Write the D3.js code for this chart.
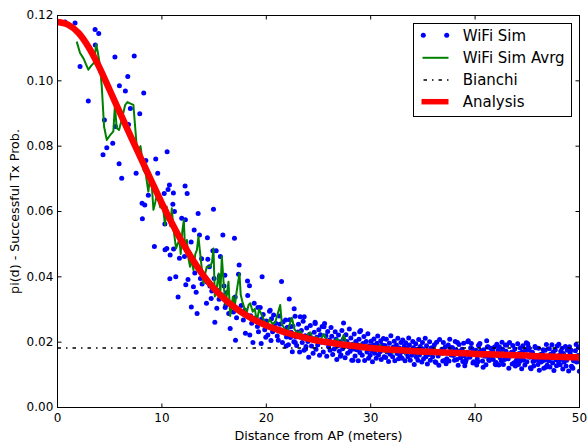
<!DOCTYPE html>
<html><head><meta charset="utf-8">
<script src="https://cdn.jsdelivr.net/npm/d3@7"></script>
<style>body{margin:0;background:#fff}svg{display:block}text{font-family:"DejaVu Sans",sans-serif}</style>
</head><body><svg id="c" width="587" height="443"></svg>
<script>
// ---- axis ticks ----
const xTicks = [0, 10, 20, 30, 40, 50];
const yTicks = [0, 0.02, 0.04, 0.06, 0.08, 0.10, 0.12];
const seriesNames = ["WiFi Sim", "WiFi Sim Avrg", "Bianchi", "Analysis"];

// ---- WiFi Sim scatter (distance m, pi(d)) ----
const simDistNear = [0.72,1.68,2.16,2.95,3.6,3.95,3.62,4.14,4.36,4.49,4.72,5.29,5.5,5.54,5.9,5.93,6.15,6.5,6.73,6.8,6.98,7.35,7.53,7.69,7.88,8.1,8.13,8.26,8.36,8.46,8.7,9.28,9.41,9.6,10.28,10.22,10.3,10.47,10.5,10.59,10.72,10.76,10.79,11.05,11.1,11.12,11.2,11.33,11.55,11.68,11.74,11.9,12.16,12.22,12.25,12.29,12.42,12.5,12.8,12.82,13.02,13.09,13.28,13.37,13.47,13.6,13.69,13.85,14.27,14.33,14.36,14.4,14.55,14.72,14.78,14.88,14.94,15.07,15.2,15.26,15.48,15.51,15.6,15.84,16.03,16.06,16.13,16.54,16.66,16.95,17.02,17.05,17.34,17.4,18.0,18.2,18.22,18.39,18.42,18.72,18.84,19.2,19.42,19.45,19.51,19.6,20.31,20.37,20.76,21.24,21.4,21.46,21.94,22.2,22.29,22.67,22.77,23.25,23.63,23.76,24.69,25.58,27.1,27.4,28.3,28.94];
const simPiNear = [.1180,.1177,.1044,.0938,.1157,.1145,.1110,.1029,.0774,.0880,.0795,.0809,.1073,.0860,.0746,.0985,.0702,.0969,.1013,.0866,.0915,.1076,.0717,.0785,.0899,.0625,.0578,.0963,.0620,.0756,.0650,.0493,.0761,.0717,.0562,.0655,.0483,.0487,.0783,.0667,.0681,.0394,.0467,.0622,.0657,.0485,.0600,.0400,.0338,.0457,.0518,.0579,.0462,.0678,.0575,.0376,.0655,.0392,.0507,.0308,.0370,.0543,.0353,.0288,.0594,.0528,.0395,.0378,.0319,.0384,.0520,.0454,.0431,.0334,.0357,.0480,.0607,.0261,.0480,.0304,.0331,.0402,.0462,.0528,.0405,.0306,.0314,.0242,.0319,.0518,.0338,.0206,.0408,.0436,.0227,.0387,.0343,.0373,.0222,.0199,.0319,.0306,.0306,.0262,.0196,.0400,.0295,.0298,.0247,.0280,.0237,.0386,.0216,.0332,.0247,.0302,.0199,.0278,.0278,.0179,.0257,.0257,.0157,.0259,.0145,.0232];

const simDistMid = [13.15,13.8,14.05,14.6,15.0,15.35,15.7,15.95,16.25,16.4,16.85,17.15,17.6,17.8,17.95,18.5,18.6,19.0,19.15,19.7,19.85,20.0,20.15,20.5,20.6,20.9,21.05,21.6,21.75,22.0,19.25,19.55,19.95,20.2,20.45,20.7,21.15,21.3,21.55,21.85,21.9];
const simPiMid = [.0412,.0455,.0402,.0372,.0395,.0358,.0345,.0372,.0352,.0288,.0292,.0275,.0312,.0268,.0298,.0281,.0258,.0275,.0248,.0285,.0238,.0265,.0222,.0272,.0232,.0258,.0219,.0262,.0228,.0245,.0232,.0271,.0215,.0248,.0205,.0283,.0206,.0255,.0199,.0268,.0188];

const simDist2230 = [22.05,22.12,22.23,22.31,22.38,22.49,22.55,22.64,22.76,22.83,22.91,23.02,23.08,23.19,23.27,23.36,23.44,23.53,23.61,23.72,23.80,23.87,23.98,24.06,24.15,24.22,24.33,24.41,24.48,24.59,24.67,24.76,24.84,24.92,25.03,25.10,25.19,25.28,25.35,25.46,25.53,25.62,25.71,25.79,25.88,25.96,
26.04,26.11,26.20,26.27,26.36,26.44,26.51,26.60,26.68,26.75,26.84,26.92,26.99,27.08,27.15,27.24,27.31,27.39,27.48,27.55,27.63,27.72,27.79,27.87,27.95,28.03,28.10,28.19,28.26,28.34,28.42,28.50,28.57,28.65,28.73,28.81,28.88,28.96,29.04,29.11,29.19,29.27,29.35,29.42,29.50,29.57,29.65,29.73,29.80,29.88,29.95];
const simPi2230 = [.0245,.0192,.0269,.0214,.0230,.0171,.0249,.0201,.0279,.0216,.0190,.0231,.0255,.0170,.0216,.0236,.0199,.0264,.0175,.0220,.0187,.0243,.0202,.0154,.0224,.0251,.0188,.0211,.0166,.0230,.0261,.0178,.0215,.0191,.0238,.0160,.0223,.0200,.0248,.0170,.0247,.0198,.0220,.0157,.0233,.0186,
.0207,.0175,.0245,.0218,.0162,.0199,.0179,.0232,.0209,.0147,.0188,.0222,.0172,.0201,.0161,.0236,.0180,.0210,.0192,.0152,.0223,.0202,.0166,.0186,.0240,.0172,.0213,.0145,.0194,.0179,.0225,.0158,.0202,.0177,.0192,.0143,.0209,.0168,.0236,.0182,.0160,.0196,.0217,.0144,.0184,.0202,.0170,.0226,.0151,.0189,.0160];

const simDist3040 = [
30.03,30.10,30.17,30.25,30.31,30.38,30.46,30.53,30.60,30.67,30.75,30.82,30.90,30.96,
31.01,31.07,31.15,31.22,31.29,31.35,31.43,31.50,31.57,31.64,31.71,31.79,31.86,31.93,
32.03,32.10,32.17,32.25,32.31,32.38,32.46,32.53,32.60,32.67,32.75,32.82,32.90,32.96,
33.01,33.07,33.15,33.22,33.29,33.35,33.43,33.50,33.57,33.64,33.71,33.79,33.86,33.93,
34.03,34.10,34.17,34.25,34.31,34.38,34.46,34.53,34.60,34.67,34.75,34.82,34.90,34.96,
35.01,35.07,35.15,35.22,35.29,35.35,35.43,35.50,35.57,35.64,35.71,35.79,35.86,35.93,
36.03,36.10,36.17,36.25,36.31,36.38,36.46,36.53,36.60,36.67,36.75,36.82,36.90,36.96,
37.01,37.07,37.15,37.22,37.29,37.35,37.43,37.50,37.57,37.64,37.71,37.79,37.86,37.93,
38.03,38.10,38.17,38.25,38.31,38.38,38.46,38.53,38.60,38.67,38.75,38.82,38.90,38.96,
39.01,39.07,39.15,39.22,39.29,39.35,39.43,39.50,39.57,39.64,39.71,39.79,39.86,39.93];
const simPi3040 = [
.0203,.0174,.0140,.0191,.0210,.0166,.0182,.0151,.0197,.0219,.0161,.0187,.0171,.0204,
.0147,.0192,.0176,.0211,.0155,.0190,.0153,.0209,.0170,.0182,.0141,.0197,.0163,.0220,
.0173,.0155,.0185,.0203,.0143,.0176,.0191,.0165,.0212,.0149,.0182,.0158,.0199,.0170,
.0151,.0207,.0172,.0188,.0143,.0198,.0165,.0181,.0155,.0213,.0191,.0145,.0176,.0160,
.0202,.0183,.0132,.0166,.0195,.0154,.0178,.0145,.0208,.0161,.0187,.0172,.0139,.0199,
.0179,.0149,.0167,.0212,.0155,.0189,.0133,.0174,.0162,.0201,.0145,.0182,.0182,.0155,
.0169,.0192,.0140,.0138,.0200,.0166,.0158,.0129,.0208,.0167,.0173,.0178,.0142,.0199,
.0174,.0144,.0186,.0134,.0149,.0169,.0191,.0142,.0209,.0182,.0161,.0184,.0181,.0159,
.0145,.0202,.0177,.0147,.0199,.0129,.0193,.0172,.0152,.0157,.0178,.0141,.0197,.0158,
.0128,.0138,.0146,.0169,.0201,.0204,.0157,.0154,.0182,.0196,.0180,.0136,.0140,.0165];

const simDist4050 = [
40.02,40.08,40.15,40.21,40.27,40.33,40.40,40.46,40.52,40.58,40.65,40.71,40.77,40.83,40.90,40.96,
41.04,41.11,41.17,41.23,41.30,41.36,41.42,41.49,41.55,41.61,41.68,41.74,41.80,41.86,41.93,41.99,
42.02,42.08,42.15,42.21,42.27,42.33,42.40,42.46,42.52,42.58,42.65,42.71,42.77,42.83,42.90,42.96,
43.04,43.11,43.17,43.23,43.30,43.36,43.42,43.49,43.55,43.61,43.68,43.74,43.80,43.86,43.93,43.99,
44.02,44.08,44.15,44.21,44.27,44.33,44.40,44.46,44.52,44.58,44.65,44.71,44.77,44.83,44.90,44.96,
45.04,45.11,45.17,45.23,45.30,45.36,45.42,45.49,45.55,45.61,45.68,45.74,45.80,45.86,45.93,45.99,
46.02,46.08,46.15,46.21,46.27,46.33,46.40,46.46,46.52,46.58,46.65,46.71,46.77,46.83,46.90,46.96,
47.04,47.11,47.17,47.23,47.30,47.36,47.42,47.49,47.55,47.61,47.68,47.74,47.80,47.86,47.93,47.99,
48.02,48.08,48.15,48.21,48.27,48.33,48.40,48.46,48.52,48.58,48.65,48.71,48.77,48.83,48.90,48.96,
49.04,49.11,49.17,49.23,49.30,49.36,49.42,49.49,49.55,49.61,49.68,49.74,49.80,49.86,49.93,49.99];
const simPi4050 = [
.0165,.0175,.0130,.0149,.0140,.0190,.0193,.0196,.0172,.0174,.0161,.0142,.0123,.0177,.0160,.0157,
.0131,.0204,.0185,.0186,.0147,.0144,.0153,.0181,.0168,.0169,.0174,.0147,.0162,.0185,.0133,.0131,
.0138,.0194,.0159,.0175,.0130,.0185,.0152,.0168,.0142,.0200,.0178,.0132,.0163,.0147,.0191,.0172,
.0191,.0157,.0149,.0120,.0199,.0158,.0164,.0169,.0133,.0190,.0167,.0137,.0179,.0127,.0142,.0162,
.0148,.0195,.0132,.0165,.0141,.0182,.0153,.0119,.0170,.0189,.0145,.0161,.0130,.0176,.0198,.0140,
.0195,.0185,.0177,.0154,.0122,.0119,.0166,.0169,.0141,.0127,.0143,.0187,.0183,.0158,.0156,.0146,
.0132,.0181,.0114,.0141,.0162,.0139,.0142,.0164,.0177,.0120,.0145,.0175,.0123,.0193,.0129,.0150,
.0143,.0180,.0124,.0163,.0151,.0192,.0136,.0170,.0113,.0158,.0176,.0146,.0128,.0188,.0155,.0140,
.0194,.0160,.0131,.0172,.0148,.0181,.0118,.0165,.0139,.0154,.0187,.0127,.0145,.0175,.0157,.0112,
.0186,.0167,.0176,.0126,.0123,.0120,.0144,.0142,.0155,.0174,.0193,.0139,.0156,.0159,.0184,.0111];

// ---- WiFi Sim Avrg ----
const avgDist = [1.84,2.16,2.5,2.95,3.2,3.5,3.7,3.85,4.05,4.24,4.46,4.72,5.0,5.35,5.5,5.67,5.9,6.15,6.48,6.7,7.0,7.27,7.6,7.75,7.95,8.1,8.23,8.45,8.7,8.85,9.05,9.19,9.35,9.5,9.7,9.85,10.0,10.15,10.3,10.45,10.6,10.8,10.95,11.1,11.36,11.5,11.68,11.8,11.95,12.1,12.22,12.39,12.55,12.7,12.86,13.02,13.2,13.35,13.5,13.73,13.98,14.15,14.3,14.62,14.8,14.94,15.07,15.25,15.43,15.6,15.74,15.96,16.1,16.38,16.54,16.8,17.0,17.18,17.43,17.55,17.7,17.9,18.14,18.3,18.46,18.7,18.9,19.1,19.3,19.58,19.8,20.06,20.3,20.6,20.85,21.1,21.33,21.5,21.75,21.97,22.2,22.45,22.7,23.0,23.25,23.5,23.88,24.2,24.5,24.8,25.1,25.5,25.8,26.1,26.45,26.8,27.1,27.4,27.7,28.0,28.36,28.7,29.0,29.3,29.64,
30.0,30.3,30.6,30.9,31.2,31.5,31.8,32.1,32.4,32.7,33.0,33.3,33.6,33.9,34.2,34.5,34.8,35.1,35.4,35.7,36.0,36.3,36.6,36.9,37.2,37.5,37.8,38.1,38.4,38.7,39.0,39.3,39.6,39.9,40.2,40.5,40.8,41.1,41.4,41.7,42.0,42.3,42.6,42.9,43.2,43.5,43.8,44.1,44.4,44.7,45.0,45.3,45.6,45.9,46.2,46.5,46.8,47.1,47.4,47.7,48.0,48.3,48.6,48.9,49.2,49.5,49.8,50.0];
const avgPi = [.1120,.1085,.1068,.1034,.1045,.1056,.1112,.1090,.1050,.0983,.0860,.0819,.0832,.0845,.0926,.0855,.0850,.0881,.0926,.0935,.0930,.0926,.0795,.0789,.0800,.0765,.0727,.0715,.0661,.0700,.0672,.0605,.0625,.0650,.0630,.0612,.0640,.0600,.0559,.0615,.0595,.0555,.0610,.0548,.0487,.0500,.0513,.0470,.0538,.0574,.0482,.0513,.0455,.0431,.0452,.0421,.0470,.0482,.0523,.0452,.0380,.0410,.0431,.0431,.0445,.0487,.0340,.0365,.0410,.0350,.0462,.0360,.0315,.0385,.0280,.0339,.0315,.0360,.0410,.0345,.0325,.0305,.0292,.0314,.0319,.0293,.0302,.0262,.0300,.0283,.0266,.0250,.0270,.0256,.0260,.0288,.0314,.0254,.0242,.0230,.0250,.0275,.0240,.0226,.0234,.0216,.0220,.0230,.0208,.0216,.0202,.0225,.0206,.0198,.0203,.0210,.0191,.0222,.0195,.0186,.0197,.0181,.0196,.0183,.0191,
.0176,.0189,.0172,.0192,.0174,.0169,.0184,.0167,.0179,.0170,.0182,.0165,.0176,.0168,.0180,.0163,.0174,.0166,.0177,.0162,.0173,.0165,.0176,.0161,.0171,.0163,.0175,.0160,.0170,.0162,.0173,.0159,.0168,.0161,.0172,.0158,.0167,.0160,.0170,.0157,.0166,.0159,.0169,.0156,.0165,.0158,.0167,.0155,.0164,.0157,.0166,.0154,.0162,.0156,.0165,.0153,.0161,.0155,.0163,.0152,.0160,.0154,.0162,.0151,.0159,.0153,.0160,.0155];

// ---- Bianchi (constant) ----
const bianchiDist = [0, 50];
const bianchiPi = [0.0182, 0.0182];

// ---- Analysis ----
const anaDist = [0,1,2,3,4,5,6,7,8,9,10,11,12,13,14,15,16,17,18,19,20,21,22,23,24,25,26,27,28,29,30,31,32,33,34,35,36,37,38,39,40,41,42,43,44,45,46,47,48,49,50];
const anaPi = [.1180,.1172,.1147,.1102,.1042,.0972,.0901,.0831,.0762,.0693,.0625,.0562,.0503,.0450,.0403,.0364,.0332,.0306,.0284,.0266,.0251,.0239,.0228,.0219,.0211,.0204,.0199,.0194,.0190,.0186,.0182,.0179,.0177,.0175,.0173,.0171,.0170,.0168,.0167,.0166,.0164,.0163,.0162,.0161,.0160,.0159,.0157,.0156,.0155,.0154,.0153];

// ---------------------------------------------------------
const zip = (a, b) => a.map((v, i) => [v, b[i]]);
const simPts = [].concat(zip(simDistNear, simPiNear), zip(simDistMid, simPiMid),
  zip(simDist2230, simPi2230), zip(simDist3040, simPi3040), zip(simDist4050, simPi4050));

const W = 587, H = 443;
const L = 57.5, R = 579.5, T = 15.5, B = 407.5;
const svg = d3.select("#c");
svg.append("rect").attr("width", W).attr("height", H).attr("fill", "#fff");

const x = d3.scaleLinear().domain([0, 50]).range([L, R]);
const y = d3.scaleLinear().domain([0, 0.12]).range([B, T]);

svg.append("defs").append("clipPath").attr("id", "clip")
  .append("rect").attr("x", L).attr("y", T).attr("width", R - L).attr("height", B - T);

const plot = svg.append("g").attr("clip-path", "url(#clip)");

plot.append("g").selectAll("circle").data(simPts).join("circle")
  .attr("cx", d => x(d[0])).attr("cy", d => y(d[1])).attr("r", 2.5)
  .attr("fill", "#0000ff");

const line = d3.line().x(d => x(d[0])).y(d => y(d[1]));

plot.append("path").datum(zip(avgDist, avgPi)).attr("d", line)
  .attr("fill", "none").attr("stroke", "#008000").attr("stroke-width", 2)
  .attr("stroke-linejoin", "round");

plot.append("path").datum(zip(bianchiDist, bianchiPi)).attr("d", line)
  .attr("fill", "none").attr("stroke", "#000").attr("stroke-width", 1.5)
  .attr("stroke-dasharray", "3.5,5,1.5,5");

plot.append("path").datum(zip(anaDist, anaPi)).attr("d", line.curve(d3.curveMonotoneX))
  .attr("fill", "none").attr("stroke", "#ff0000").attr("stroke-width", 6.5);

// axes (ticks inside, all four sides)
function styleAxis(g) {
  g.select(".domain").remove();
  g.selectAll(".tick line").attr("stroke", "#000");
  g.selectAll("text").attr("font-family", "DejaVu Sans").attr("font-size", 12).attr("fill", "#000");
}
svg.append("g").attr("transform", `translate(0,${B})`)
  .call(d3.axisBottom(x).tickValues(xTicks).tickFormat(d3.format("d")).tickSize(-4).tickPadding(5.7).offset(0))
  .call(styleAxis);
svg.append("g").attr("transform", `translate(0,${T})`)
  .call(d3.axisTop(x).tickValues(xTicks).tickFormat("").tickSize(-4).offset(0))
  .call(styleAxis);
svg.append("g").attr("transform", `translate(${L},0)`)
  .call(d3.axisLeft(y).tickValues(yTicks).tickFormat(d3.format(".2f")).tickSize(-4).tickPadding(4.2).offset(0))
  .call(styleAxis);
svg.append("g").attr("transform", `translate(${R},0)`)
  .call(d3.axisRight(y).tickValues(yTicks).tickFormat("").tickSize(-4).offset(0))
  .call(styleAxis);

svg.append("rect").attr("x", L).attr("y", T).attr("width", R - L).attr("height", B - T)
  .attr("fill", "none").attr("stroke", "#000").attr("stroke-width", 1);

// axis labels
svg.append("text").attr("x", (L + R) / 2).attr("y", 439.5).attr("text-anchor", "middle")
  .attr("font-size", 12.7).attr("fill", "#000").text("Distance from AP (meters)");
svg.append("text").attr("transform", `translate(19,${(T + B) / 2}) rotate(-90)`)
  .attr("text-anchor", "middle").attr("font-size", 12.7).attr("fill", "#000")
  .text("pi(d) - Successful Tx Prob.");

// legend
const lg = svg.append("g");
lg.append("rect").attr("x", 413.5).attr("y", 23.5).attr("width", 158).attr("height", 93)
  .attr("fill", "#fff").attr("stroke", "#000").attr("stroke-width", 1);
const rowY = [35.2, 57.8, 80, 101.7];
const hx0 = 422.5, hx1 = 448.5;
[423.3, 446.7].forEach(cx => lg.append("circle").attr("cx", cx).attr("cy", rowY[0]).attr("r", 2.5).attr("fill", "#0000ff"));
lg.append("line").attr("x1", hx0).attr("x2", hx1).attr("y1", rowY[1]).attr("y2", rowY[1])
  .attr("stroke", "#008000").attr("stroke-width", 2);
lg.append("line").attr("x1", hx0 + 1).attr("x2", hx1).attr("y1", rowY[2]).attr("y2", rowY[2])
  .attr("stroke", "#000").attr("stroke-width", 1.5).attr("stroke-dasharray", "3.5,5,1.5,5");
lg.append("line").attr("x1", hx0 - 1).attr("x2", hx1).attr("y1", rowY[3]).attr("y2", rowY[3])
  .attr("stroke", "#ff0000").attr("stroke-width", 5.5);
seriesNames.forEach((n, i) => lg.append("text").attr("x", 462.7).attr("y", rowY[i] + 5.4)
  .attr("font-size", 15).attr("fill", "#000").text(n));
</script></body></html>
